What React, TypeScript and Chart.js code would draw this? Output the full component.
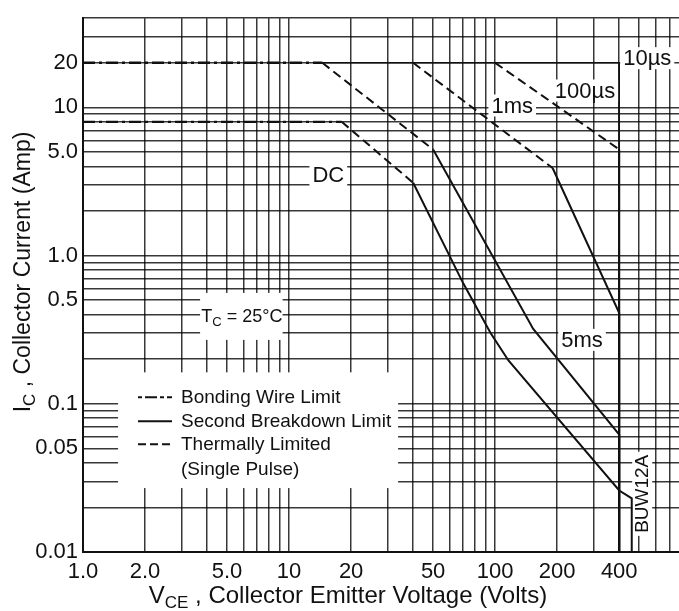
import React, { useEffect, useRef } from 'react';
import { Chart, registerables } from 'chart.js';

Chart.register(...registerables);

const W = 679;
const H = 611;

// ---- Axis configuration ----
const xRange = [1, 780];
const yRange = [0.01, 40];
const xTickValues = [1, 2, 5, 10, 20, 50, 100, 200, 400];
const xTickLabels = ['1.0', '2.0', '5.0', '10', '20', '50', '100', '200', '400'];
const yTickValues = [20, 10, 5, 1, 0.5, 0.1, 0.05, 0.01];
const yTickLabels = ['20', '10', '5.0', '1.0', '0.5', '0.1', '0.05', '0.01'];
const gridMultipliers = [1, 2, 3, 4, 5, 6, 7, 8, 9];
const xDecades = [1, 10, 100];
const yDecades = [0.01, 0.1, 1, 10];

// ---- Bonding wire limit (dash-dot) ----
const bondPulseV = [1, 14.5];
const bondPulseI = [20, 20];
const bondDcV = [1, 18];
const bondDcI = [8, 8];

// ---- Thermally limited (dashed) ----
const thermDcV = [18, 40];
const thermDcI = [8, 3.1];
const therm5msV = [14.5, 50];
const therm5msI = [20, 5.2];
const therm1msV = [40, 190];
const therm1msI = [20, 3.9];
const therm100usV = [100, 400];
const therm100usI = [20, 5.2];

// ---- Second breakdown limit / solid limits ----
const sbDcV = [40, 70, 95, 116, 400, 460, 460];
const sbDcI = [3.1, 0.65, 0.3, 0.196, 0.026, 0.023, 0.01];
const sb5msV = [50, 153, 400, 400];
const sb5msI = [5.2, 0.32, 0.062, 0.01];
const sb1msV = [190, 400, 400];
const sb1msI = [3.9, 0.41, 0.01];
const edge100usV = [400, 400];
const edge100usI = [5.2, 0.01];
const pulse10usV = [14.5, 400, 400];
const pulse10usI = [20, 20, 0.01];

// ---- Curve labels (data-space centers) ----
const curveLabelTexts = ['DC', '1ms', '100µs', '10µs', '5ms'];
const curveLabelV = [15.5, 121, 273, 547, 264];
const curveLabelI = [3.5, 10.3, 13, 21.5, 0.27];

const tcLabelV = 5.9;
const tcLabelI = 0.39;
const deviceLabel = 'BUW12A';
const deviceLabelV = 517;
const deviceLabelI = 0.0247;

const legendItems = ['Bonding Wire Limit', 'Second Breakdown Limit', 'Thermally Limited', '(Single Pulse)'];

// white cleared regions of the grid (data space)
const maskV0 = [1.48, 3.7];
const maskV1 = [33.8, 9.3];
const maskI0 = [0.027, 0.27];
const maskI1 = [0.163, 0.56];

const FONT = '"Liberation Sans", Arial, sans-serif';

const zip = (vs: number[], is: number[]) => vs.map((v, k) => ({ x: v, y: is[k] }));

const gridValues = (decades: number[], range: number[]) => {
  const out: number[] = [];
  decades.forEach((d) => gridMultipliers.forEach((m) => {
    const v = +(d * m).toPrecision(6);
    if (v >= range[0] - 1e-9 && v <= range[1] + 1e-9) out.push(v);
  }));
  return out;
};

const findLabel = (vals: number[], labels: string[], v: number) => {
  const k = vals.findIndex((t) => Math.abs(t - v) / t < 1e-6);
  return k >= 0 ? labels[k] : '';
};

type Part = [string, boolean];

function richWidth(ctx: CanvasRenderingContext2D, parts: Part[], size: number) {
  let w = 0;
  parts.forEach(([t, sub]) => {
    ctx.font = `${sub ? Math.round(size * 0.72) : size}px ${FONT}`;
    w += ctx.measureText(t).width;
  });
  return w;
}

function drawRich(ctx: CanvasRenderingContext2D, parts: Part[], size: number, cx: number, baseline: number) {
  const w = richWidth(ctx, parts, size);
  let x = cx - w / 2;
  ctx.textAlign = 'left';
  ctx.textBaseline = 'alphabetic';
  parts.forEach(([t, sub]) => {
    ctx.font = `${sub ? Math.round(size * 0.72) : size}px ${FONT}`;
    ctx.fillText(t, x, baseline + (sub ? size * 0.22 : 0));
    x += ctx.measureText(t).width;
  });
}

const LABEL_SIZE = 22;
const SMALL_SIZE = 19;

const annotPlugin = {
  id: 'annot',
  beforeDatasetsDraw(chart: any) {
    const { ctx, scales } = chart;
    const x = scales.x;
    const y = scales.y;
    ctx.save();
    ctx.fillStyle = '#fff';
    maskV0.forEach((_, k) => {
      const x0 = x.getPixelForValue(maskV0[k]);
      const x1 = x.getPixelForValue(maskV1[k]);
      const y0 = y.getPixelForValue(maskI1[k]);
      const y1 = y.getPixelForValue(maskI0[k]);
      ctx.fillRect(x0, y0, x1 - x0, y1 - y0);
    });
    ctx.font = `${LABEL_SIZE}px ${FONT}`;
    curveLabelTexts.forEach((t, k) => {
      const cx = x.getPixelForValue(curveLabelV[k]);
      const cy = y.getPixelForValue(curveLabelI[k]);
      const w = ctx.measureText(t).width;
      ctx.fillRect(cx - w / 2 - 3, cy - LABEL_SIZE * 0.5, w + 6, LABEL_SIZE);
    });
    {
      ctx.font = `19px ${FONT}`;
      const w = ctx.measureText(deviceLabel).width;
      const cx = x.getPixelForValue(deviceLabelV);
      const cy = y.getPixelForValue(deviceLabelI);
      ctx.fillRect(cx - 10, cy - w / 2 - 3, 20, w + 6);
    }
    ctx.restore();
  },
  afterDatasetsDraw(chart: any) {
    const { ctx, scales, chartArea } = chart;
    const x = scales.x;
    const y = scales.y;
    ctx.save();
    ctx.fillStyle = '#111';
    ctx.textAlign = 'center';
    ctx.textBaseline = 'middle';
    ctx.font = `${LABEL_SIZE}px ${FONT}`;
    curveLabelTexts.forEach((t, k) => {
      ctx.fillText(t, x.getPixelForValue(curveLabelV[k]), y.getPixelForValue(curveLabelI[k]) + 1);
    });
    drawRich(ctx, [['T', false], ['C', true], [' = 25°C', false]], 18,
      x.getPixelForValue(tcLabelV), y.getPixelForValue(tcLabelI) + 6);
    ctx.save();
    ctx.translate(x.getPixelForValue(deviceLabelV), y.getPixelForValue(deviceLabelI));
    ctx.rotate(-Math.PI / 2);
    ctx.font = `19px ${FONT}`;
    ctx.textAlign = 'center';
    ctx.textBaseline = 'middle';
    ctx.fillText(deviceLabel, 0, 1);
    ctx.restore();

    // legend
    const lx0 = chartArea.left + 55;
    const lx1 = chartArea.left + 89;
    const tx = chartArea.left + 98;
    const rows = [379, 403, 426, 451].map((r) => chartArea.top + r);
    const dashes = [[4, 3, 12, 3], [], [8, 4]];
    ctx.strokeStyle = '#111';
    ctx.lineWidth = 2;
    dashes.forEach((d, k) => {
      ctx.setLineDash(d);
      ctx.beginPath();
      ctx.moveTo(lx0, rows[k]);
      ctx.lineTo(lx1, rows[k]);
      ctx.stroke();
    });
    ctx.setLineDash([]);
    ctx.font = `${SMALL_SIZE}px ${FONT}`;
    ctx.textAlign = 'left';
    ctx.textBaseline = 'middle';
    legendItems.forEach((t, k) => ctx.fillText(t, tx, rows[k] + 1));
    ctx.restore();
  },
  afterDraw(chart: any) {
    const { ctx } = chart;
    ctx.save();
    ctx.fillStyle = '#111';
    drawRich(ctx, [['V', false], ['CE', true], [' , Collector Emitter Voltage (Volts)', false]], 24,
      348, 603);
    ctx.translate(22, 272);
    ctx.rotate(-Math.PI / 2);
    drawRich(ctx, [['I', false], ['C', true], [' , Collector Current (Amp)', false]], 23, 0, 8);
    ctx.restore();
  },
};

export default function App() {
  const ref = useRef<HTMLCanvasElement | null>(null);
  useEffect(() => {
    if (!ref.current) return;
    const base = { showLine: true, pointRadius: 0, borderColor: '#111', backgroundColor: '#111', fill: false, tension: 0 };
    const dashDot = [12, 4, 3, 4];
    const dashed = [9, 5];
    const xGrid = gridValues(xDecades, xRange);
    const yGrid = gridValues(yDecades, yRange);
    const chart = new Chart(ref.current, {
      type: 'scatter',
      data: {
        datasets: [
          { ...base, label: 'Bonding wire (pulse)', data: zip(bondPulseV, bondPulseI), borderWidth: 2.5, borderDash: dashDot },
          { ...base, label: 'Bonding wire (DC)', data: zip(bondDcV, bondDcI), borderWidth: 2.2, borderDash: dashDot },
          { ...base, label: 'Thermal DC', data: zip(thermDcV, thermDcI), borderWidth: 2, borderDash: dashed },
          { ...base, label: 'Thermal 5ms', data: zip(therm5msV, therm5msI), borderWidth: 2, borderDash: dashed },
          { ...base, label: 'Thermal 1ms', data: zip(therm1msV, therm1msI), borderWidth: 2, borderDash: dashed },
          { ...base, label: 'Thermal 100us', data: zip(therm100usV, therm100usI), borderWidth: 2, borderDash: dashed },
          { ...base, label: 'DC', data: zip(sbDcV, sbDcI), borderWidth: 2 },
          { ...base, label: '5ms', data: zip(sb5msV, sb5msI), borderWidth: 2 },
          { ...base, label: '1ms', data: zip(sb1msV, sb1msI), borderWidth: 2 },
          { ...base, label: '100us', data: zip(edge100usV, edge100usI), borderWidth: 2 },
          { ...base, label: '10us', data: zip(pulse10usV, pulse10usI), borderWidth: 1.6 },
        ],
      },
      options: {
        responsive: false,
        animation: false,
        devicePixelRatio: 1,
        layout: { padding: { top: 12, right: 0, left: 0, bottom: 0 } },
        plugins: { legend: { display: false }, tooltip: { enabled: false } },
        scales: {
          x: {
            type: 'logarithmic',
            min: xRange[0],
            max: xRange[1],
            afterBuildTicks: (axis: any) => { axis.ticks = xGrid.map((v) => ({ value: v })); },
            afterFit: (axis: any) => { axis.height = 59; },
            ticks: {
              autoSkip: false,
              maxRotation: 0,
              padding: 7,
              color: '#111',
              font: { family: FONT, size: 22 },
              callback: (v: any) => findLabel(xTickValues, xTickLabels, Number(v)),
            },
            grid: { color: 'rgba(0,0,0,0.78)', lineWidth: 1.5, drawTicks: false },
            border: { display: true, color: '#111', width: 2 },
          },
          y: {
            type: 'logarithmic',
            min: yRange[0],
            max: yRange[1],
            afterBuildTicks: (axis: any) => { axis.ticks = yGrid.map((v) => ({ value: v })); },
            afterFit: (axis: any) => { axis.width = 83; },
            ticks: {
              autoSkip: false,
              padding: 5,
              color: '#111',
              font: { family: FONT, size: 22 },
              callback: (v: any) => findLabel(yTickValues, yTickLabels, Number(v)),
            },
            grid: { color: 'rgba(0,0,0,0.78)', lineWidth: 1.5, drawTicks: false },
            border: { display: true, color: '#111', width: 2 },
          },
        },
      },
      plugins: [annotPlugin],
    } as any);
    return () => chart.destroy();
  }, []);
  return (
    <div style={{ position: 'absolute', left: 0, top: 0, width: W, height: H, background: '#fff' }}>
      <canvas ref={ref} width={W} height={H} style={{ display: 'block', width: W, height: H }} />
    </div>
  );
}
